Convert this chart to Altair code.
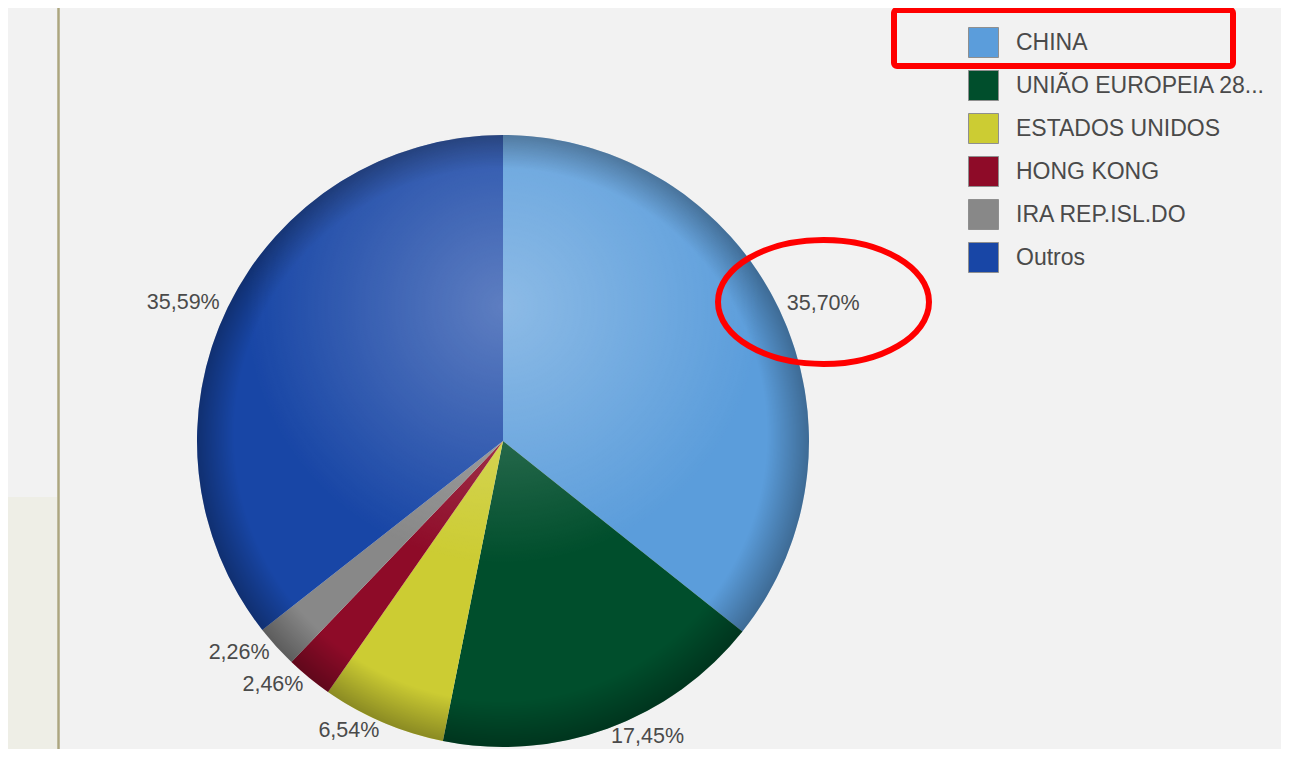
import altair as alt
import pandas as pd

# ---- data ----
countries = ["CHINA", "UNIÃO EUROPEIA 28...", "ESTADOS UNIDOS", "HONG KONG", "IRA REP.ISL.DO", "Outros"]
shares = [35.70, 17.45, 6.54, 2.46, 2.26, 35.59]
labels = ["35,70%", "17,45%", "6,54%", "2,46%", "2,26%", "35,59%"]
colors = ["#5b9ddb", "#004e2c", "#cccc33", "#8e0b28", "#888888", "#1846a6"]

df = pd.DataFrame({"pais": countries, "share": shares, "label": labels, "ordem": list(range(len(countries)))})
one = pd.DataFrame({"k": [0]})

W, H = 1273, 741
cx, cy, R = 495, 433, 306
FONT = "Liberation Sans"
LAB_R = 315

panel = alt.Chart(one).mark_rect(color="#eeeee6").encode(
    x=alt.value(0), x2=alt.value(49), y=alt.value(489), y2=alt.value(H)
)
vline = alt.Chart(one).mark_rule(color="#aca67f", strokeWidth=2.5).encode(
    x=alt.value(50.5), y=alt.value(0), y2=alt.value(H)
)

pie = alt.Chart(df).mark_arc(outerRadius=R).encode(
    theta=alt.Theta("share:Q", stack=True),
    color=alt.Color(
        "pais:N",
        sort=countries,
        scale=alt.Scale(domain=countries, range=colors),
        legend=alt.Legend(
            title=None, orient="none", legendX=960, legendY=19,
            symbolType="square", symbolSize=900,
            symbolStrokeColor="#8f8f8f", symbolStrokeWidth=1,
            labelFont=FONT, labelFontSize=23, labelColor="#4a4a4a",
            labelOffset=17, rowPadding=8, padding=0, labelLimit=400,
        ),
    ),
    order=alt.Order("ordem:Q"),
    x=alt.value(cx), y=alt.value(cy),
)

rim = alt.Chart(one).mark_arc(
    outerRadius=R, theta=0, theta2=6.2832,
    color=alt.RadialGradient(
        gradient="radial", x1=0.47, y1=0.42, x2=0.5, y2=0.5, r1=0, r2=0.5,
        stops=[
            alt.GradientStop(color="rgba(0,0,0,0)", offset=0),
            alt.GradientStop(color="rgba(0,0,0,0)", offset=0.87),
            alt.GradientStop(color="rgba(0,0,0,0.32)", offset=1),
        ],
    ),
).encode(x=alt.value(cx), y=alt.value(cy))

highlight = alt.Chart(one).mark_arc(
    outerRadius=R, theta=0, theta2=6.2832,
    color=alt.RadialGradient(
        gradient="radial", x1=0.5, y1=0.28, x2=0.5, y2=0.28, r1=0, r2=0.42,
        stops=[
            alt.GradientStop(color="rgba(255,255,255,0.30)", offset=0),
            alt.GradientStop(color="rgba(255,255,255,0)", offset=1),
        ],
    ),
).encode(x=alt.value(cx), y=alt.value(cy))

lab_base = alt.Chart(df).transform_window(
    cum="sum(share)", sort=[alt.SortField("ordem")]
).transform_calculate(mid="datum.cum - datum.share / 2")

lab_right = lab_base.transform_filter("datum.mid < 50").mark_text(
    radius=LAB_R, align="left", baseline="middle", font=FONT, fontSize=21.5, color="#4a4a4a"
).encode(
    theta=alt.Theta("mid:Q", scale=alt.Scale(domain=[0, 100]), stack=None),
    text="label:N", x=alt.value(cx), y=alt.value(cy),
)
lab_left = lab_base.transform_filter("datum.mid >= 50").mark_text(
    radius=LAB_R, align="right", baseline="middle", font=FONT, fontSize=21.5, color="#4a4a4a"
).encode(
    theta=alt.Theta("mid:Q", scale=alt.Scale(domain=[0, 100]), stack=None),
    text="label:N", x=alt.value(cx), y=alt.value(cy),
)

box = alt.Chart(one).mark_rect(fillOpacity=0, stroke="#ff0000", strokeWidth=6, cornerRadius=3).encode(
    x=alt.value(886), x2=alt.value(1225), y=alt.value(2), y2=alt.value(58)
)
ellipse_path = ("M 1 0 C 1 0.3248 0.5523 0.588 0 0.588 C -0.5523 0.588 -1 0.3248 -1 0 "
                "C -1 -0.3248 -0.5523 -0.588 0 -0.588 C 0.5523 -0.588 1 -0.3248 1 0 Z")
ellipse = alt.Chart(one).mark_point(
    shape=ellipse_path, size=211 * 211, filled=False, stroke="#ff0000", strokeWidth=6, opacity=1
).encode(x=alt.value(815.5), y=alt.value(294))

chart = alt.layer(
    panel, vline, pie, rim, highlight, lab_right, lab_left, box, ellipse
).resolve_scale(theta="independent").properties(
    width=W, height=H, autosize="none", padding=0, background="#f2f2f2"
).configure_view(stroke=None)

chart.save("out.html", embed_options={"renderer": "svg", "actions": False})
